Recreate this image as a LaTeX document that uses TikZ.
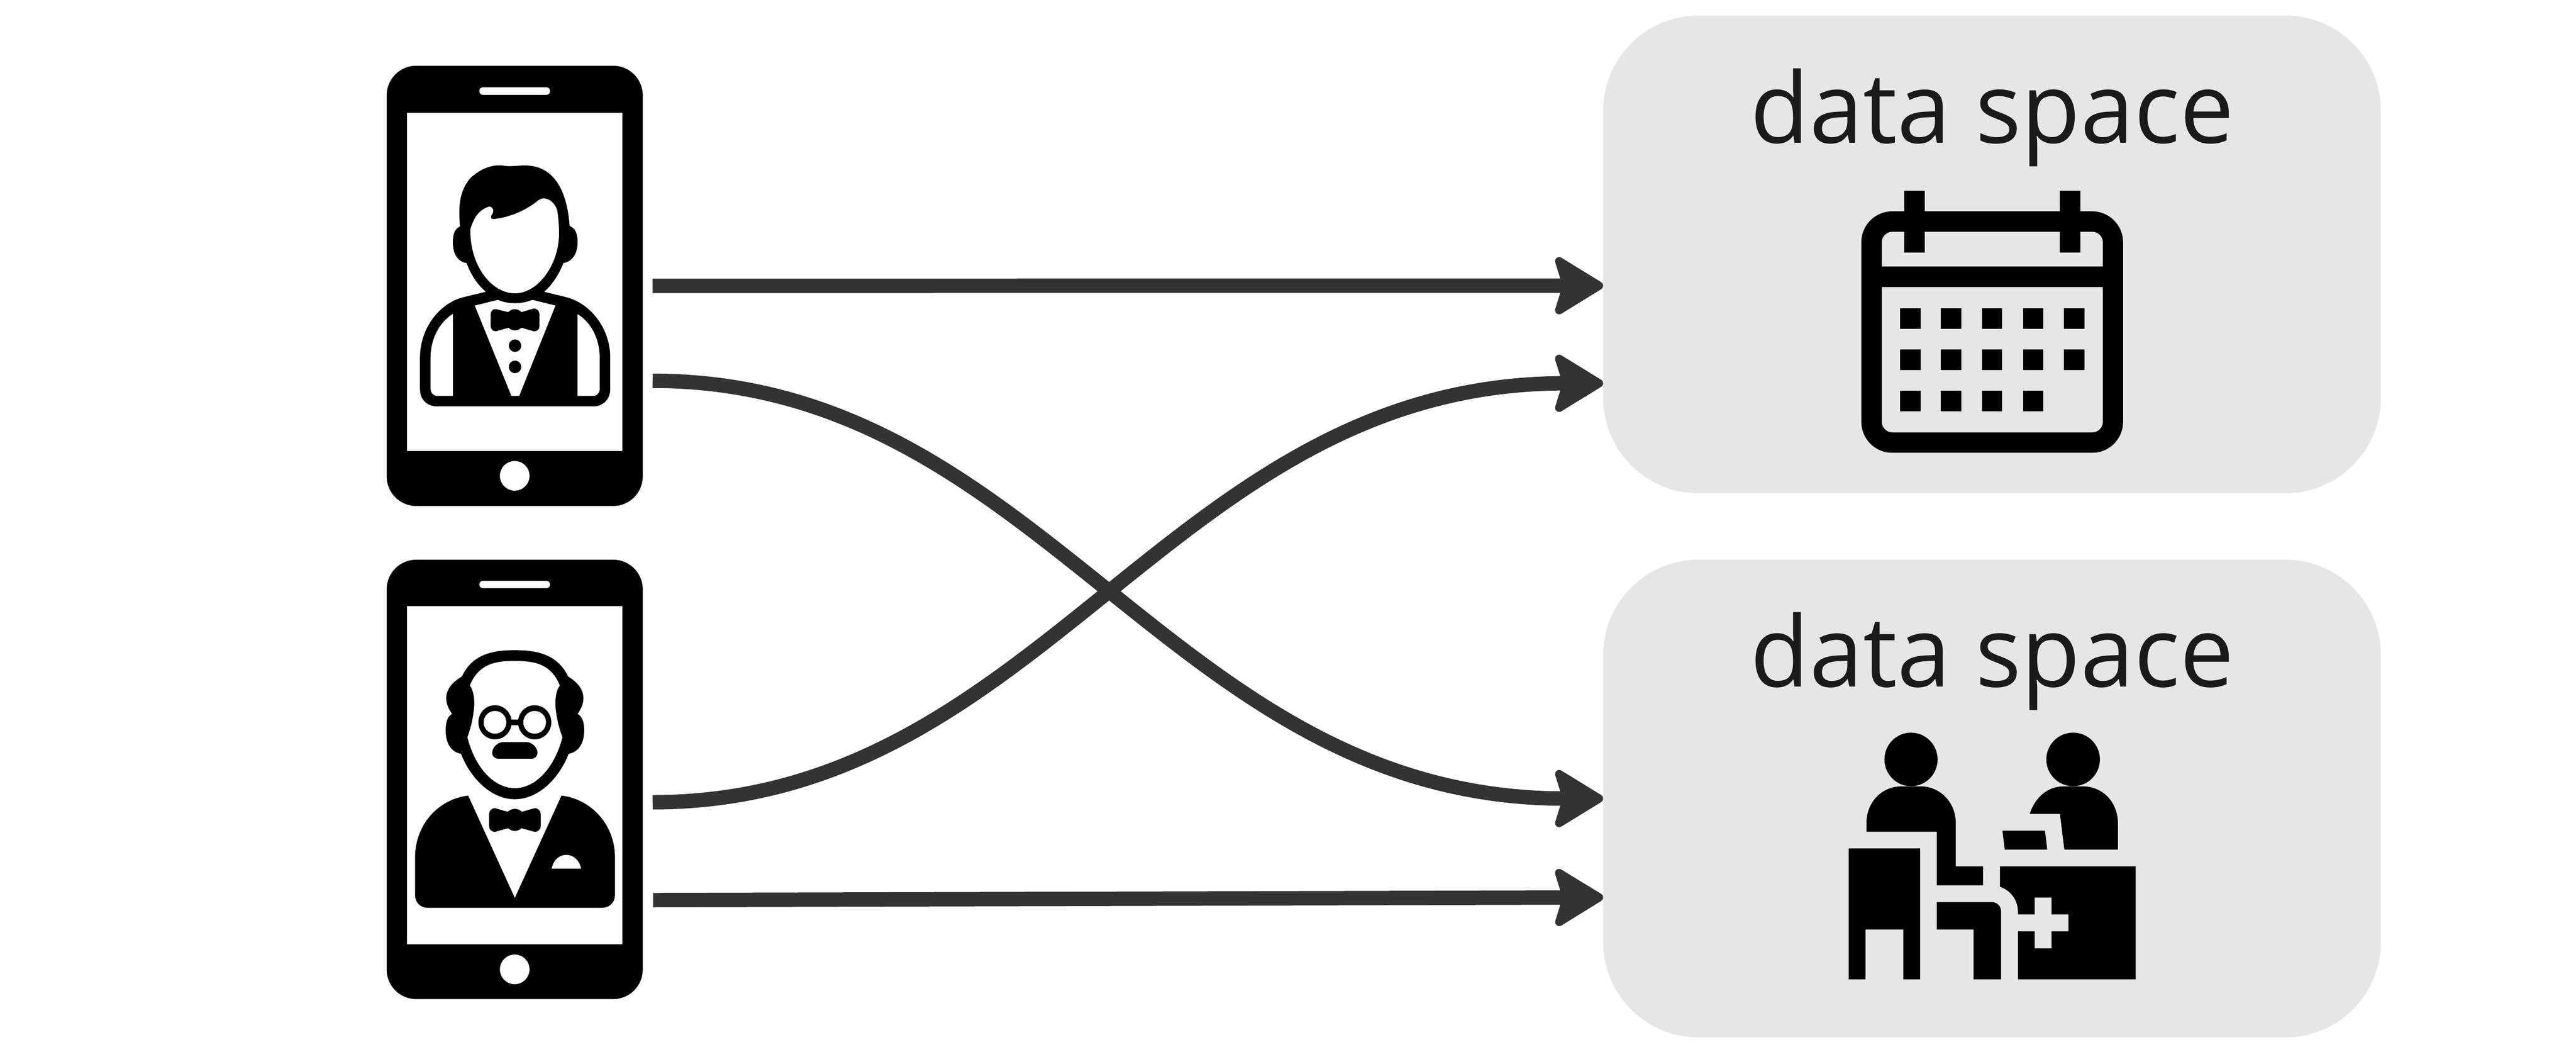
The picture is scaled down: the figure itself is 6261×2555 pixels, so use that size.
\documentclass[tikz,border=0pt]{standalone}
\usepackage{fontspec}
\setmainfont{Open Sans}
\usetikzlibrary{arrows.meta}
\definecolor{arrowgrey}{HTML}{333333}
\definecolor{panelgrey}{HTML}{E6E6E6}
\definecolor{textgrey}{HTML}{1A1A1A}
\tikzset{
  phone/.style={fill=black,rounded corners=.72cm,minimum width=6.22cm,inner sep=0pt,outer sep=0pt},
  screen/.style={fill=white,minimum width=5.22cm,inner sep=0pt,outer sep=0pt},
  panel/.style={fill=panelgrey,rounded corners=2.32cm,minimum width=18.89cm,minimum height=11.6cm,inner sep=0pt,outer sep=0pt},
  dstext/.style={anchor=base,inner sep=0pt,text=textgrey,xscale=.983,font=\fontsize{67.7pt}{70pt}\selectfont},
  link/.style={draw=arrowgrey,line width=.35cm,-{Stealth[length=1.32cm,width=1.6cm,inset=.24cm,round,line width=.2cm]}}
}
\begin{document}
\begin{tikzpicture}[x=.01cm,y=-.01cm]
\useasboundingbox (0,0) rectangle (6261,2555);
% panels
\node[panel] (ds1) at (4841.5,618) {};
\node[panel] (ds2) at (4841.5,1940) {};
\node[dstext] (t1) at (4842,347) {data space};
\node[dstext] (t2) at (4842,1669) {data space};
% phones
\node[phone,minimum height=10.69cm] (ph1) at (1251,694.5) {};
\node[screen,minimum height=8.21cm] (sc1) at (1251,684.5) {};
\node[phone,minimum height=10.67cm] (ph2) at (1251,1893.5) {};
\node[screen,minimum height=8.21cm] (sc2) at (1251,1883.5) {};
\fill[white,rounded corners=.09cm] (1165,212) rectangle (1337,230.5);
\fill[white] (1251,1156) ellipse [x radius=36,y radius=36];
\fill[white,rounded corners=.09cm] (1165,1411) rectangle (1337,1429);
\fill[white] (1251,2355) ellipse [x radius=36,y radius=36];
% person 1
\begin{scope}[shift={(900,120)},xscale=.4592,yscale=.7270]
\fill[black] (475,592) .. controls (460,500) and (490,460) .. (530,430) .. controls (590,395) and (650,385) .. (700,388) .. controls (740,393) and (770,388) .. (820,388) .. controls (960,388) and (1040,460) .. (1055,590) .. controls (1085,598) and (1097,615) .. (1097,645) .. controls (1097,685) and (1065,710) .. (1022,714) .. controls (1000,750) and (965,785) .. (920,810) -- (1030,827) .. controls (1160,845) and (1270,930) .. (1270,1030) -- (1270,1135) .. controls (1270,1170) and (1230,1193) .. (1180,1193) -- (355,1193) .. controls (300,1193) and (263,1170) .. (263,1135) -- (263,1030) .. controls (263,930) and (370,845) .. (500,827) -- (612,810) .. controls (565,785) and (530,750) .. (510,714) .. controls (465,710) and (437,685) .. (437,645) .. controls (437,615) and (450,598) .. (475,592) -- cycle;
\fill[white] (530,600) .. controls (555,550) and (585,535) .. (630,525) .. controls (650,527) and (660,540) .. (640,555) .. controls (635,565) and (645,568) .. (655,567) .. controls (750,560) and (830,535) .. (895,502) .. controls (925,490) and (975,505) .. (990,540) .. controls (997,570) and (1000,600) .. (998,630) .. controls (990,720) and (890,815) .. (765,815) .. controls (640,815) and (525,720) .. (530,600) -- cycle;
\fill[white] (553,856) -- (675,837) .. controls (730,852) and (800,852) .. (858,837) -- (980,856) -- (788,1158) -- (747,1158) -- cycle;
\fill[black] (665,868) -- (730,878) .. controls (750,865) and (780,865) .. (800,878) -- (865,866) .. controls (885,866) and (895,875) .. (895,885) -- (895,925) .. controls (895,935) and (885,942) .. (865,942) -- (800,930) .. controls (780,942) and (750,942) .. (732,930) -- (665,942) .. controls (650,942) and (637,935) .. (637,925) -- (637,885) .. controls (637,875) and (650,866) .. (665,868) -- cycle;
\fill[black] (766,990) ellipse [x radius=33,y radius=21];
\fill[black] (766,1061) ellipse [x radius=33,y radius=21];
\fill[white] (437,884) -- (437,1158) -- (355,1158) .. controls (335,1158) and (319,1148) .. (319,1135) -- (319,1030) .. controls (319,965) and (370,910) .. (437,884) -- cycle;
\fill[white] (1097,885) -- (1097,1158) -- (1180,1158) .. controls (1200,1158) and (1214,1148) .. (1214,1135) -- (1214,1030) .. controls (1214,965) and (1165,910) .. (1097,885) -- cycle;
\end{scope}
% person 2
\begin{scope}[shift={(900,1320)},xscale=.4592,yscale=.7270]
\fill[black] (485,445) .. controls (540,370) and (650,357) .. (765,357) .. controls (880,357) and (990,370) .. (1047,445) .. controls (1100,465) and (1128,490) .. (1128,518) .. controls (1128,540) and (1110,558) .. (1097,570) .. controls (1120,578) and (1132,595) .. (1132,625) .. controls (1132,670) and (1100,698) .. (1050,703) .. controls (1000,785) and (890,855) .. (765,855) .. controls (640,855) and (530,785) .. (480,703) .. controls (430,698) and (399,670) .. (399,625) .. controls (399,595) and (410,578) .. (433,570) .. controls (420,558) and (402,540) .. (402,518) .. controls (402,490) and (430,465) .. (485,445) -- cycle;
\fill[white] (527,475) .. controls (575,400) and (670,393) .. (765,393) .. controls (860,393) and (955,400) .. (1003,475) .. controls (985,490) and (978,515) .. (980,545) .. controls (985,585) and (1000,620) .. (1017,648) .. controls (975,750) and (875,818) .. (765,818) .. controls (655,818) and (555,750) .. (514,648) .. controls (530,620) and (545,585) .. (550,545) .. controls (552,515) and (545,490) .. (527,475) -- cycle;
\fill[black] (660,598) ellipse [x radius=88,y radius=57];
\fill[black] (870,598) ellipse [x radius=88,y radius=57];
\fill[black] (740,588) rectangle (790,607);
\fill[white] (660,598) ellipse [x radius=60,y radius=38];
\fill[white] (870,598) ellipse [x radius=60,y radius=38];
\fill[black] (705,664) -- (825,664) .. controls (860,664) and (885,685) .. (885,700) .. controls (885,712) and (870,720) .. (850,720) -- (680,720) .. controls (660,720) and (645,712) .. (645,700) .. controls (645,685) and (670,664) .. (705,664) -- cycle;
\fill[black] (518,843) -- (765,1185) -- (1012,843) .. controls (1170,855) and (1295,940) .. (1295,1050) -- (1295,1175) .. controls (1295,1200) and (1265,1218) .. (1225,1218) -- (305,1218) .. controls (265,1218) and (237,1200) .. (237,1175) -- (237,1050) .. controls (237,940) and (360,855) .. (518,843) -- cycle;
\fill[black] (660,885) -- (727,897) .. controls (750,884) and (780,884) .. (803,897) -- (870,885) .. controls (890,885) and (902,895) .. (902,905) -- (902,945) .. controls (902,955) and (890,964) .. (870,964) -- (800,952) .. controls (780,964) and (750,964) .. (730,952) -- (660,964) .. controls (640,964) and (629,955) .. (629,945) -- (629,905) .. controls (629,895) and (640,885) .. (660,885) -- cycle;
\fill[white] (960,1087) .. controls (970,1055) and (1005,1041) .. (1037,1041) .. controls (1070,1041) and (1105,1055) .. (1116,1087) -- cycle;
\end{scope}
% calendar
\fill[black,rounded corners=.75cm] (4524,513.4) rectangle (5160,1100);
\fill[panelgrey,rounded corners=.26cm] (4573.6,563) rectangle (5111,1050.4);
\begin{scope}[shift={(4400,400)},xscale=.523,yscale=.4847]
\fill[black] (300,511) rectangle (1400,614);
\fill[black] (437,131) rectangle (532,440);
\fill[black] (1159,131) rectangle (1254,440);
\foreach \yy in {720,926,1132}{
  \foreach \xx in {417,607,797,988}{
    \fill[black] (\xx,\yy) rectangle ++(95,104);
  }
}
\fill[black] (1178,720) rectangle ++(95,104);
\fill[black] (1178,926) rectangle ++(95,104);
\end{scope}
% consultation icon
\begin{scope}[shift={(4400,1740)},xscale=.5612,yscale=.4337]
\fill[black] (436,242) ellipse [x radius=115,y radius=150];
\fill[black] (1138,242) ellipse [x radius=116,y radius=150];
\fill[black] (243,647) -- (243,600) .. controls (243,480) and (310,393) .. (395,393) -- (478,393) .. controls (560,393) and (630,480) .. (630,600) -- (630,841) -- (748,841) -- (748,947) -- (548,947) -- (548,647) -- cycle;
\fill[black] (166,741) -- (475,741) -- (475,1474) -- (403,1474) -- (403,1195) -- (239,1195) -- (239,1474) -- (166,1474) -- cycle;
\fill[black] (548,1041) -- (785,1041) .. controls (810,1041) and (826,1065) .. (826,1095) -- (826,1474) -- (707,1474) -- (707,1195) -- (548,1195) -- cycle;
\fill[black] (950,547) .. controls (975,450) and (1030,393) .. (1098,393) -- (1180,393) .. controls (1265,393) and (1332,480) .. (1332,600) -- (1332,747) -- (1100,747) -- (1081,547) -- cycle;
\fill[black] (832,641) -- (1016,641) -- (1026,747) -- (842,747) -- cycle;
\fill[black] (821,841) -- (1409,841) -- (1409,1474) -- (899,1474) -- (899,1205) -- (972,1205) -- (972,1300) -- (1045,1300) -- (1045,1205) -- (1118,1205) -- (1118,1110) -- (1045,1110) -- (1045,1016) -- (972,1016) -- (972,1110) -- (899,1110) -- (899,1095) .. controls (899,1030) and (868,975) .. (821,955) -- cycle;
\end{scope}
% connector ends
\coordinate (s1) at ([xshift=.24cm,yshift=0cm]ph1.east);
\coordinate (s2) at ([xshift=.24cm,yshift=-2.305cm]ph1.east);
\coordinate (s3) at ([xshift=.24cm,yshift=-.555cm]ph2.east);
\coordinate (s4) at ([xshift=.25cm,yshift=-2.93cm]ph2.east);
\coordinate (e1) at ([yshift=-.76cm]ds1.west);
\coordinate (e2) at ([yshift=-3.13cm]ds1.west);
\coordinate (e3) at ([yshift=0cm]ds2.west);
\coordinate (e4) at ([yshift=-2.4cm]ds2.west);
\draw[link] (s1) -- (e1);
\draw[link] (s2) .. controls +(947,0) and +(-1050,0) .. (e3);
\draw[link] (s3) .. controls +(947,0) and +(-1050,0) .. (e2);
\draw[link] (s4) -- (e4);
\end{tikzpicture}
\end{document}
